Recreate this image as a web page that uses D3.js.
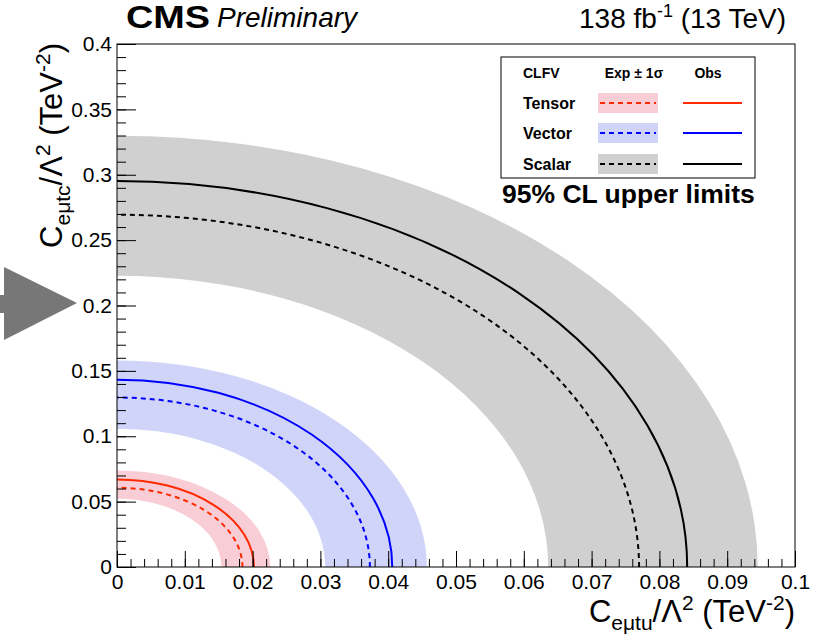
<!DOCTYPE html>
<html>
<head>
<meta charset="utf-8">
<script src="https://cdn.jsdelivr.net/npm/d3@7"></script>
<style>
  body { margin: 0; background: #fff; }
  text { font-family: "Liberation Sans", Arial, sans-serif; }
</style>
</head>
<body>
<svg id="chart" width="819" height="637"></svg>
<script>
// limits, intercepts on each axis (TeV^-2)
var models   = ["Tensor", "Vector", "Scalar"];
var obsX     = [0.0202, 0.0406, 0.0841];
var obsY     = [0.0670, 0.1433, 0.2952];
var expX     = [0.0185, 0.0373, 0.0770];
var expY     = [0.0606, 0.1296, 0.2694];
var bandLoX  = [0.0154, 0.0307, 0.0636];
var bandHiX  = [0.0226, 0.0457, 0.0945];
var bandLoY  = [0.0522, 0.1058, 0.2227];
var bandHiY  = [0.0739, 0.1580, 0.3299];
var lineColors = ["#ff2a00", "#0000ff", "#000000"];
var bandColors = ["#f9cdd5", "#d0d4f9", "#d0d0d0"];

var xTicks = [0, 0.01, 0.02, 0.03, 0.04, 0.05, 0.06, 0.07, 0.08, 0.09, 0.1];
var yTicks = [0, 0.05, 0.1, 0.15, 0.2, 0.25, 0.3, 0.35, 0.4];
var xTickLabels = ["0", "0.01", "0.02", "0.03", "0.04", "0.05", "0.06", "0.07", "0.08", "0.09", "0.1"];
var yTickLabels = ["0", "0.05", "0.1", "0.15", "0.2", "0.25", "0.3", "0.35", "0.4"];

var svg = d3.select("#chart");
var frameL = 117, frameR = 795, frameT = 44, frameB = 567;

var x = d3.scaleLinear().domain([0, 0.1]).range([frameL, frameR]);
var y = d3.scaleLinear().domain([0, 0.4]).range([frameB, frameT]);

// quarter ellipse from (a,0) to (0,b) in data space
function arc(a, b) {
  var rx = x(a) - x(0), ry = y(0) - y(b);
  return "M" + x(a) + "," + y(0) + " A" + rx + "," + ry + " 0 0 0 " + x(0) + "," + y(b);
}
function arcBack(a, b) {
  var rx = x(a) - x(0), ry = y(0) - y(b);
  return "L" + x(0) + "," + y(b) + " A" + rx + "," + ry + " 0 0 1 " + x(a) + "," + y(0);
}

var plot = svg.append("g");
plot.selectAll("path.band")
  .data(models)
  .enter()
  .append("path")
  .attr("class", "band")
  .attr("d", function(d, i) {
    return arc(bandHiX[i], bandHiY[i]) + arcBack(bandLoX[i], bandLoY[i]) + "Z";
  })
  .attr("fill", function(d, i) { return bandColors[i]; });

plot.selectAll("path.exp")
  .data(models)
  .enter()
  .append("path")
  .attr("class", "exp")
  .attr("d", function(d, i) { return arc(expX[i], expY[i]); })
  .attr("fill", "none")
  .attr("stroke", function(d, i) { return lineColors[i]; })
  .attr("stroke-width", 2)
  .attr("stroke-dasharray", "5,4");

plot.selectAll("path.obs")
  .data(models)
  .enter()
  .append("path")
  .attr("class", "obs")
  .attr("d", function(d, i) { return arc(obsX[i], obsY[i]); })
  .attr("fill", "none")
  .attr("stroke", function(d, i) { return lineColors[i]; })
  .attr("stroke-width", 2);

// axes, ticks pointing inside like ROOT
var xMinor = d3.range(0, 51).map(function(k) { return k * 0.002; });
var yMinor = d3.range(0, 41).map(function(k) { return k * 0.01; });

svg.append("g").attr("transform", "translate(0," + frameB + ")")
  .call(d3.axisBottom(x).tickValues(xTicks).tickSize(-16).tickPadding(7)
    .tickFormat(function(d, i) { return xTickLabels[i]; }));
svg.append("g").attr("transform", "translate(0," + frameB + ")")
  .call(d3.axisBottom(x).tickValues(xMinor).tickSize(-8).tickFormat(""));
svg.append("g").attr("transform", "translate(" + frameL + ",0)")
  .call(d3.axisLeft(y).tickValues(yTicks).tickSize(-19).tickPadding(5)
    .tickFormat(function(d, i) { return yTickLabels[i]; }));
svg.append("g").attr("transform", "translate(" + frameL + ",0)")
  .call(d3.axisLeft(y).tickValues(yMinor).tickSize(-9).tickFormat(""));

svg.selectAll(".domain").remove();
svg.selectAll(".tick line").attr("stroke", "#000").attr("stroke-width", 1);
svg.selectAll(".tick text").attr("font-size", 21).attr("fill", "#000")
  .attr("font-family", "'Liberation Sans', Arial, sans-serif");

svg.append("rect")
  .attr("x", frameL).attr("y", frameT)
  .attr("width", frameR - frameL).attr("height", frameB - frameT)
  .attr("fill", "none").attr("stroke", "#000").attr("stroke-width", 1);

// axis titles
function axisTitle(g, sub) {
  g.append("tspan").text("C");
  g.append("tspan").attr("font-size", 21).attr("dy", 8).text(sub);
  g.append("tspan").attr("dy", -8).text("/\u039B");
  g.append("tspan").attr("font-size", 21).attr("dy", -12).text("2");
  g.append("tspan").attr("dy", 12).text(" (TeV");
  g.append("tspan").attr("font-size", 21).attr("dy", -12).text("-2");
  g.append("tspan").attr("dy", 12).text(")");
}
var xt = svg.append("text").attr("x", 795).attr("y", 622)
  .attr("text-anchor", "end").attr("font-size", 31);
axisTitle(xt, "e\u03BCtu");
var yt = svg.append("text").attr("transform", "translate(62,43) rotate(-90)")
  .attr("text-anchor", "end").attr("font-size", 31);
axisTitle(yt, "e\u03BCtc");

// header
svg.append("text").attr("x", 126).attr("y", 28)
  .attr("font-size", 30.5).attr("font-weight", "bold")
  .attr("textLength", 84).attr("lengthAdjust", "spacingAndGlyphs").text("CMS");
svg.append("text").attr("x", 217).attr("y", 27)
  .attr("font-size", 28).attr("font-style", "italic").text("Preliminary");
var lumi = svg.append("text").attr("x", 786).attr("y", 28)
  .attr("text-anchor", "end").attr("font-size", 28);
lumi.append("tspan").text("138 fb");
lumi.append("tspan").attr("font-size", 18).attr("dy", -11).text("-1");
lumi.append("tspan").attr("dy", 11).text(" (13 TeV)");

// legend
var leg = svg.append("g");
leg.append("rect").attr("x", 501).attr("y", 57).attr("width", 254).attr("height", 121)
  .attr("fill", "#fff").attr("stroke", "#000").attr("stroke-width", 1);
leg.append("text").attr("x", 523).attr("y", 78).attr("font-size", 14).attr("font-weight", "bold").text("CLFV");
leg.append("text").attr("x", 634).attr("y", 78).attr("text-anchor", "middle")
  .attr("font-size", 14).attr("font-weight", "bold").text("Exp \u00B1 1\u03C3");
leg.append("text").attr("x", 708).attr("y", 78).attr("text-anchor", "middle")
  .attr("font-size", 14).attr("font-weight", "bold").text("Obs");

var rowY = [103, 133, 164];
models.forEach(function(m, i) {
  leg.append("text").attr("x", 523).attr("y", rowY[i] + 6)
    .attr("font-size", 16).attr("font-weight", "bold").text(m);
  leg.append("rect").attr("x", 598).attr("y", rowY[i] - 10).attr("width", 60).attr("height", 20)
    .attr("fill", bandColors[i]);
  leg.append("line").attr("x1", 600).attr("x2", 656).attr("y1", rowY[i]).attr("y2", rowY[i])
    .attr("stroke", lineColors[i]).attr("stroke-width", 2).attr("stroke-dasharray", "5,4");
  leg.append("line").attr("x1", 683).attr("x2", 742).attr("y1", rowY[i]).attr("y2", rowY[i])
    .attr("stroke", lineColors[i]).attr("stroke-width", 2);
});

svg.append("text").attr("x", 502).attr("y", 203)
  .attr("font-size", 26.5).attr("font-weight", "bold").text("95% CL upper limits");

// grey arrow pointing at 0.2
svg.append("path")
  .attr("d", "M0,295 L4,295 L4,267 L77,303 L4,340 L4,313 L0,313 Z")
  .attr("fill", "#777777");
</script>
</body>
</html>
